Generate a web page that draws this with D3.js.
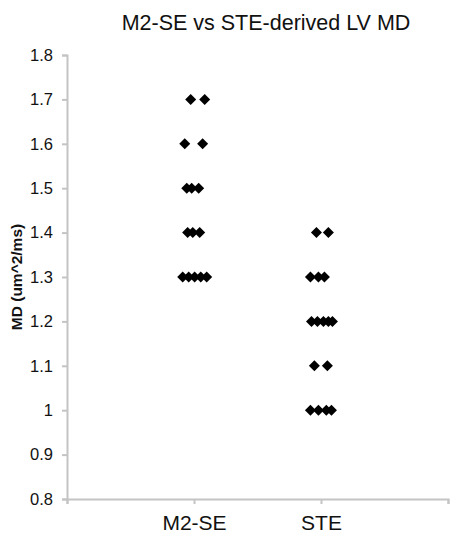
<!DOCTYPE html>
<html>
<head>
<meta charset="utf-8">
<script src="https://cdn.jsdelivr.net/npm/d3@7"></script>
<style>
  body { margin: 0; background: #fff; }
  text { font-family: "Liberation Sans", Arial, sans-serif; }
</style>
</head>
<body>
<svg id="chart" width="466" height="552"></svg>
<script>
const categories = ["M2-SE", "STE"];
const yTicks = [0.8, 0.9, 1.0, 1.1, 1.2, 1.3, 1.4, 1.5, 1.6, 1.7, 1.8];
const yTickLabels = ["0.8", "0.9", "1", "1.1", "1.2", "1.3", "1.4", "1.5", "1.6", "1.7", "1.8"];

// jittered x position (category index = 1, 2) and MD value
const m2seX = [0.974, 1.084, 0.927, 1.068, 0.943, 0.982, 1.037, 0.950, 0.990, 1.045, 0.911, 0.958, 1.005, 1.053, 1.100];
const m2seY = [1.7, 1.7, 1.6, 1.6, 1.5, 1.5, 1.5, 1.4, 1.4, 1.4, 1.3, 1.3, 1.3, 1.3, 1.3];
const steX = [1.964, 2.058, 1.917, 1.980, 2.027, 1.925, 1.972, 2.019, 2.058, 2.090, 1.948, 2.050, 1.917, 1.980, 2.042, 2.082];
const steY = [1.4, 1.4, 1.3, 1.3, 1.3, 1.2, 1.2, 1.2, 1.2, 1.2, 1.1, 1.1, 1.0, 1.0, 1.0, 1.0];

const svg = d3.select("#chart");
const margin = {left: 67, right: 18, top: 55, bottom: 53};
const W = 466, H = 552;

const x = d3.scaleLinear().domain([0, 3]).range([margin.left, W - margin.right]);
const y = d3.scaleLinear().domain([0.8, 1.8]).range([H - margin.bottom, margin.top]);

const axisColor = "#c4c4c4";

// y axis
const yAxis = svg.append("g")
    .attr("transform", `translate(${margin.left},0)`)
    .call(d3.axisLeft(y).tickValues(yTicks).tickFormat((d, i) => yTickLabels[i]).tickSize(5).tickPadding(9));
yAxis.select(".domain").attr("stroke", axisColor).attr("stroke-width", 2);
yAxis.selectAll(".tick line").attr("stroke", axisColor).attr("stroke-width", 2);
yAxis.selectAll(".tick text")
    .attr("fill", "#111")
    .style("font-size", "16.5px")
    .style("font-family", "Liberation Sans, Arial, sans-serif");

// x axis
const xAxis = svg.append("g")
    .attr("transform", `translate(0,${y(0.8)})`)
    .call(d3.axisBottom(x).tickValues([0, 1, 2, 3])
        .tickFormat(d => categories[d - 1] || "").tickSize(5).tickPadding(11));
xAxis.select(".domain").attr("stroke", axisColor).attr("stroke-width", 2);
xAxis.selectAll(".tick line").attr("stroke", axisColor).attr("stroke-width", 2);
xAxis.selectAll(".tick text")
    .attr("fill", "#111")
    .style("font-size", "21px")
    .style("font-family", "Liberation Sans, Arial, sans-serif");

// markers
const diamond = "M0,-5.5L5.5,0L0,5.5L-5.5,0Z";
const points = m2seX.map((d, i) => ({x: d, y: m2seY[i]}))
    .concat(steX.map((d, i) => ({x: d, y: steY[i]})));

svg.append("g").selectAll("path")
    .data(points)
    .enter().append("path")
    .attr("d", diamond)
    .attr("transform", d => `translate(${x(d.x)},${y(d.y)})`)
    .attr("fill", "#000");

// title
svg.append("text")
    .attr("x", 266)
    .attr("y", 30)
    .attr("text-anchor", "middle")
    .attr("fill", "#111")
    .style("font-size", "21.5px")
    .text("M2-SE vs STE-derived LV MD");

// y label
svg.append("text")
    .attr("transform", `translate(22,${(y(0.8) + y(1.8)) / 2}) rotate(-90)`)
    .attr("text-anchor", "middle")
    .attr("fill", "#111")
    .style("font-size", "15.5px")
    .style("font-weight", "bold")
    .text("MD (um^2/ms)");
</script>
</body>
</html>
